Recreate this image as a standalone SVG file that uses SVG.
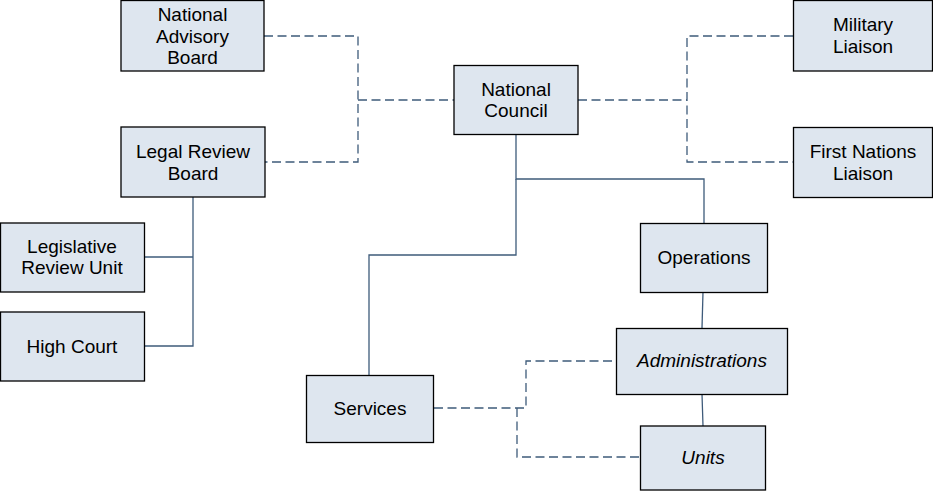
<svg xmlns="http://www.w3.org/2000/svg" width="933" height="491" viewBox="0 0 933 491">
<style>
.n rect{fill:#dee6ef;stroke:#000;stroke-width:1.3}
.n text{font-family:"Liberation Sans",Arial,sans-serif;font-size:19px;fill:#000;text-anchor:middle}
.i text{font-style:italic}
#connectors path{fill:none;stroke:#3e5b7a;stroke-width:1.3}
#connectors .d{stroke-dasharray:9,4.5}
</style>
<rect width="933" height="491" fill="#fff"/>
<g id="connectors">
<path class="d" d="M264,36H358V162H265"/>
<path class="d" d="M358,100H454"/>
<path class="d" d="M578,100H687"/>
<path class="d" d="M793,36H687V162H793"/>
<path d="M516,134V179H704V223"/>
<path d="M516,179V255H369V375"/>
<path d="M193,197V346H144"/>
<path d="M193,257H144"/>
<path d="M703,292L702,328"/>
<path d="M702,394L703,426"/>
<path class="d" d="M434,408H526V361H616"/>
<path class="d" d="M517,408V457H640"/>
</g>
<g id="national-advisory-board" class="n"><rect x="121" y="0.5" width="143" height="70.5"/><text x="192.5" y="21">National</text><text x="192.5" y="43">Advisory</text><text x="192.5" y="64">Board</text></g>
<g id="legal-review-board" class="n"><rect x="121" y="127" width="144" height="70"/><text x="193" y="158">Legal Review</text><text x="193" y="180">Board</text></g>
<g id="national-council" class="n"><rect x="454" y="65.5" width="124" height="69"/><text x="516" y="96">National</text><text x="516" y="117">Council</text></g>
<g id="military-liaison" class="n"><rect x="793.5" y="0.5" width="139" height="70.5"/><text x="863" y="31">Military</text><text x="863" y="53">Liaison</text></g>
<g id="first-nations-liaison" class="n"><rect x="793.5" y="127.5" width="139" height="70"/><text x="863" y="158">First Nations</text><text x="863" y="180">Liaison</text></g>
<g id="legislative-review-unit" class="n"><rect x="0.5" y="223" width="144" height="69"/><text x="72" y="253">Legislative</text><text x="72" y="274">Review Unit</text></g>
<g id="high-court" class="n"><rect x="0.5" y="312" width="144" height="69"/><text x="72" y="353">High Court</text></g>
<g id="operations" class="n"><rect x="640.5" y="223.5" width="127" height="69"/><text x="704" y="264">Operations</text></g>
<g id="services" class="n"><rect x="306.5" y="375.5" width="127" height="67"/><text x="370" y="415">Services</text></g>
<g id="administrations" class="n i"><rect x="616.5" y="328.5" width="171" height="66"/><text x="702" y="367">Administrations</text></g>
<g id="units" class="n i"><rect x="640.5" y="426" width="125" height="64"/><text x="703" y="464">Units</text></g>
</svg>
